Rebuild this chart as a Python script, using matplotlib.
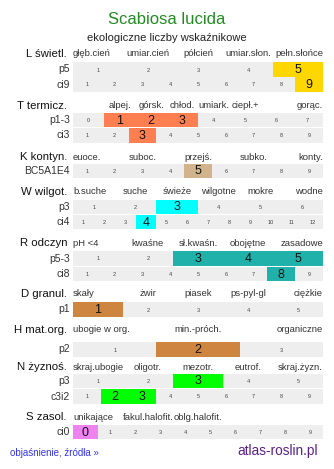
import matplotlib
matplotlib.use('Agg')
import matplotlib.pyplot as plt

plt.rcParams['font.family'] = ['Liberation Sans', 'DejaVu Sans']

# Indicator groups (names, scale labels, label anchor cells)
group_names = ['L świetl.', 'T termicz.', 'K kontyn.', 'W wilgot.', 'R odczyn',
               'D granul.', 'H mat.org.', 'N żyznoś.', 'S zasol.']
scale_labels = [
    ['głęb.cień', 'umiar.cień', 'półcień', 'umiar.słon.', 'pełn.słońce'],
    ['alpej.', 'górsk.', 'chłod.', 'umiark.', 'ciepł.+', 'gorąc.'],
    ['euoce.', 'suboc.', 'przejś.', 'subko.', 'konty.'],
    ['b.suche', 'suche', 'świeże', 'wilgotne', 'mokre', 'wodne'],
    ['pH <4', 'kwaśne', 'sł.kwaśn.', 'obojętne', 'zasadowe'],
    ['skały', 'żwir', 'piasek', 'ps-pyl-gl', 'ciężkie'],
    ['ubogie w org.', 'min.-próch.', 'organiczne'],
    ['skraj.ubogie', 'oligotr.', 'mezotr.', 'eutrof.', 'skraj.żyzn.'],
    ['unikające', 'fakul.halofit.', 'oblg.halofit.'],
]
label_divs = [5, 8, 9, 6, 5, 5, 3, 5, 5]
label_cells = [[0, 1, 2, 3, 4], [1, 2, 3, 4, 5, 7], [0, 2, 4, 6, 8],
               [0, 1, 2, 3, 4, 5], [0, 1, 2, 3, 4], [0, 1, 2, 3, 4],
               [0, 1, 2], [0, 1, 2, 3, 4], [0, 1, 2]]

# rows per group: label, scale values, highlighted values
row_labels = [['p5', 'ci9'], ['p1-3', 'ci3'], ['BC5A1E4'], ['p3', 'ci4'],
              ['p5-3', 'ci8'], ['p1'], ['p2'], ['p3', 'c3i2'], ['ci0']]
row_scales = [[range(1, 6), range(1, 10)], [range(0, 8), range(1, 10)],
              [range(1, 10)], [range(1, 7), range(1, 13)],
              [range(1, 6), range(1, 10)], [range(1, 6)], [range(1, 4)],
              [range(1, 6), range(1, 10)], [range(0, 10)]]
row_values = [[[5], [9]], [[1, 2, 3], [3]], [[5]], [[3], [4]],
              [[3, 4, 5], [8]], [[1]], [[2]], [[3], [2, 3]], [[0]]]
colors = ['#FFD700', '#FF7F50', '#D2B48C', '#00FFFF', '#20B2AA',
          '#CD853F', '#CD853F', '#00FF00', '#EE82EE']

# layout (pixels)
header_y = [54, 106, 157, 192, 243, 294, 330, 367, 417]
row_y = [[69.5, 84.5], [120, 135.3], [171], [207, 222], [258.5, 274],
         [309.5], [349.5], [381, 396.5], [432]]
x0, x1 = 73, 323
W, H = 334, 469

fig = plt.figure(figsize=(W / 100, H / 100), dpi=100)
ax = fig.add_axes([0, 0, 1, 1])
ax.set_xlim(0, W)
ax.set_ylim(H, 0)
ax.axis('off')

ax.text(166.5, 19, 'Scabiosa lucida', ha='center', va='center', fontsize=12, color='#228B22')
ax.text(167, 38, 'ekologiczne liczby wskaźnikowe', ha='center', va='center', fontsize=8, color='#222222')

for g in range(len(group_names)):
    ax.text(67, header_y[g], group_names[g], ha='right', va='center', fontsize=8.2, color='#111111')
    step = (x1 - x0) / label_divs[g]
    for lab, c in zip(scale_labels[g], label_cells[g]):
        if c == 0:
            x, ha = x0, 'left'
        elif c == label_divs[g] - 1:
            x, ha = x1, 'right'
        else:
            x, ha = x0 + (c + 0.5) * step, 'center'
        ax.text(x, header_y[g], lab, ha=ha, va='center', fontsize=6.8, color='#333333')

    for r in range(len(row_labels[g])):
        y = row_y[g][r]
        scale = list(row_scales[g][r])
        vals = row_values[g][r]
        w = (x1 - x0) / len(scale)
        ax.text(70, y, row_labels[g][r], ha='right', va='center', fontsize=7.5, color='#333333')
        for i, v in enumerate(scale):
            hi = v in vals
            ax.barh(y, w, left=x0 + i * w, height=14.5,
                    color=colors[g] if hi else '#EEEEEE', linewidth=0)
            ax.text(x0 + (i + 0.5) * w, y + 0.5, str(v), ha='center', va='center',
                    fontsize=9 if hi else 4, color='#111111' if hi else '#444444')

ax.text(10, 453, 'objaśnienie, źródła »', ha='left', va='center', fontsize=7, color='#3333EE')
ax.text(318, 451, 'atlas-roslin.pl', ha='right', va='center', fontsize=9.8, color='#5B1F8A')

fig.savefig('out.png', dpi=100)
